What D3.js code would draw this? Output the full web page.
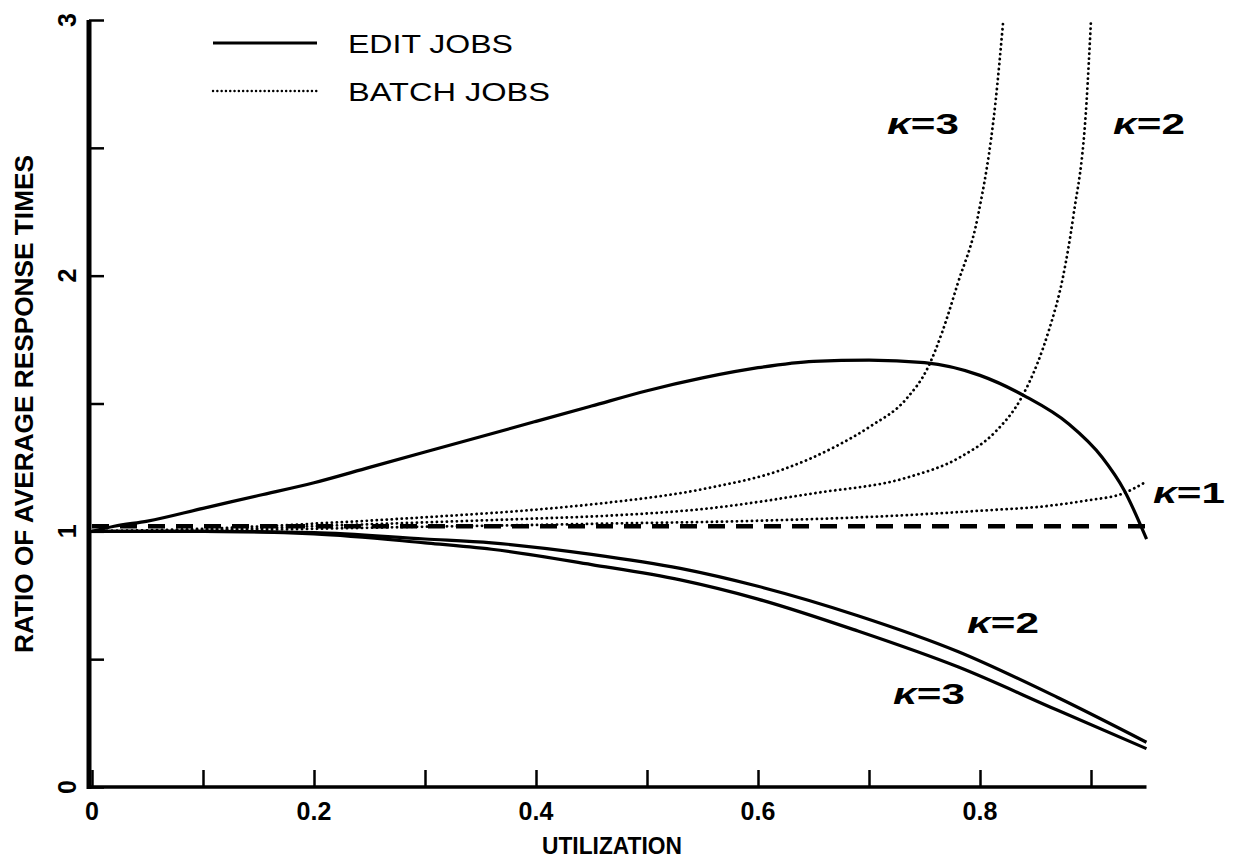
<!DOCTYPE html>
<html>
<head>
<meta charset="utf-8">
<script src="https://cdn.jsdelivr.net/npm/d3@7"></script>
<style>
  body { margin: 0; background: #fff; }
  svg { display: block; }
  text { font-family: 'Liberation Sans', 'DejaVu Sans', sans-serif; fill: #000; }
</style>
</head>
<body>
<div id="graf"></div>
<script>
// datos leidos del grafico
// curvas solidas (edit jobs)
editTopU   = [0, 0.02, 0.05, 0.1, 0.15, 0.2, 0.25, 0.3, 0.35, 0.4, 0.45, 0.5, 0.55, 0.6, 0.65, 0.7, 0.75, 0.8, 0.84, 0.88, 0.91, 0.93, 0.95]
editTopV   = [1.0, 1.02, 1.04, 1.09, 1.14, 1.19, 1.25, 1.31, 1.37, 1.43, 1.49, 1.55, 1.60, 1.64, 1.665, 1.67, 1.66, 1.61, 1.53, 1.42, 1.29, 1.16, 0.97]

editK2U    = [0, 0.1, 0.2, 0.3, 0.36, 0.45, 0.53, 0.6, 0.69, 0.78, 0.87, 0.95]
editK2V    = [1.0, 1.0, 0.995, 0.97, 0.955, 0.91, 0.855, 0.785, 0.67, 0.53, 0.35, 0.175]

editK3U    = [0, 0.1, 0.2, 0.3, 0.36, 0.45, 0.53, 0.6, 0.69, 0.78, 0.87, 0.95]
editK3V    = [1.0, 1.0, 0.99, 0.955, 0.93, 0.87, 0.81, 0.735, 0.61, 0.47, 0.30, 0.15]

// curvas punteadas (batch jobs)
batchK3U   = [0, 0.1, 0.2, 0.3, 0.4, 0.46, 0.556, 0.621, 0.669, 0.701, 0.734, 0.753, 0.766, 0.78, 0.798, 0.814, 0.821]
batchK3V   = [1.0, 1.01, 1.03, 1.055, 1.085, 1.11, 1.17, 1.24, 1.33, 1.41, 1.52, 1.64, 1.78, 1.97, 2.23, 2.68, 3.0]

batchK2U   = [0, 0.1, 0.2, 0.3, 0.4, 0.46, 0.556, 0.652, 0.734, 0.782, 0.814, 0.837, 0.852, 0.862, 0.875, 0.884, 0.896, 0.9]
batchK2V   = [1.0, 1.005, 1.02, 1.035, 1.05, 1.06, 1.09, 1.15, 1.21, 1.29, 1.39, 1.52, 1.66, 1.785, 2.0, 2.23, 2.68, 3.0]

batchK1U   = [0, 0.1, 0.2, 0.3, 0.4, 0.46, 0.588, 0.718, 0.798, 0.862, 0.895, 0.93, 0.948]
batchK1V   = [1.0, 1.003, 1.01, 1.018, 1.025, 1.03, 1.04, 1.06, 1.08, 1.10, 1.12, 1.15, 1.19]

// linea de referencia (guiones)
refU       = [0, 0.95]
refV       = [1.02, 1.02]

// ticks
xTicks      = [0, 0.1, 0.2, 0.3, 0.4, 0.5, 0.6, 0.7, 0.8, 0.9]
xTickLabels = ['0', '0.2', '0.4', '0.6', '0.8']
yTicks      = [0, 0.5, 1, 1.5, 2, 2.5, 3]
yTickLabels = ['0', '1', '2', '3']

// configuracion del svg
ancho = 1237
alto  = 864

svg = d3.select('#graf').append('svg')
        .attr('width', ancho)
        .attr('height', alto)

// escalas
x = d3.scaleLinear().domain([0, 0.95]).range([92, 1146.5])
y = d3.scaleLinear().domain([0, 3]).range([787, 20])

// ejes con ticks hacia adentro
xAxis = d3.axisBottom(x).tickValues(xTicks).tickSize(-17).tickFormat('')
yAxis = d3.axisLeft(y).tickValues(yTicks).tickSize(-15).tickFormat('')

gx = svg.append('g').attr('transform', `translate(0, ${ y(0) })`).call(xAxis)
gy = svg.append('g').attr('transform', `translate(${ x(0) - 3 }, 0)`).call(yAxis)

gx.select('.domain').attr('d', `M${ x(0) - 5 },0H${ x(0.95) }`).attr('stroke-width', 3.5)
gy.select('.domain').attr('d', `M0,${ y(3) }V${ y(0) + 2 }`).attr('stroke-width', 5)
svg.selectAll('.tick line').attr('stroke', '#000').attr('stroke-width', 2.5)

// etiquetas de ticks
svg.selectAll('text.xlab')
  .data(xTickLabels)
  .enter().append('text')
    .attr('class', 'xlab')
    .attr('x', d => x(+d))
    .attr('y', 820)
    .attr('text-anchor', 'middle')
    .style('font-size', '25px')
    .style('font-weight', 'bold')
    .text(d => d)

svg.selectAll('text.ylab')
  .data(yTickLabels)
  .enter().append('text')
    .attr('class', 'ylab')
    .attr('transform', d => `translate(76, ${ y(+d) }) rotate(-90)`)
    .attr('text-anchor', 'middle')
    .style('font-size', '25px')
    .style('font-weight', 'bold')
    .text(d => d)

// titulos de ejes
svg.append('text')
  .attr('x', 612)
  .attr('y', 854)
  .attr('text-anchor', 'middle')
  .attr('textLength', 140)
  .attr('lengthAdjust', 'spacingAndGlyphs')
  .style('font-size', '23px')
  .style('font-weight', 'bold')
  .text('UTILIZATION')

svg.append('text')
  .attr('transform', 'translate(33, 404) rotate(-90)')
  .attr('text-anchor', 'middle')
  .attr('textLength', 498)
  .attr('lengthAdjust', 'spacingAndGlyphs')
  .style('font-size', '25px')
  .style('font-weight', 'bold')
  .text('RATIO OF AVERAGE RESPONSE TIMES')

// generador de lineas
linea = d3.line()
          .x(d => x(d[0]))
          .y(d => y(d[1]))
          .curve(d3.curveMonotoneX)

function serie(us, vs) {
  return us.map((u, i) => [u, vs[i]])
}

estiloSolido = { width: 3.2, dash: null, cap: 'butt' }
estiloPunto  = { width: 2.8, dash: '0.1,4.9', cap: 'round' }

series = [
  { data: serie(editTopU, editTopV), s: estiloSolido },
  { data: serie(editK2U, editK2V), s: estiloSolido },
  { data: serie(editK3U, editK3V), s: estiloSolido },
  { data: serie(batchK3U, batchK3V), s: estiloPunto },
  { data: serie(batchK2U, batchK2V), s: estiloPunto },
  { data: serie(batchK1U, batchK1V), s: estiloPunto },
  { data: serie(refU, refV), s: { width: 4.5, dash: '17,11', cap: 'butt' } }
]

series.forEach(d => {
  svg.append('path')
    .attr('d', linea(d.data))
    .attr('fill', 'none')
    .attr('stroke', '#000')
    .attr('stroke-width', d.s.width)
    .attr('stroke-linecap', d.s.cap)
    .attr('stroke-dasharray', d.s.dash)
})

// leyenda
leyenda = [
  { nombre: 'EDIT JOBS', y: 43, s: estiloSolido, largo: 165 },
  { nombre: 'BATCH JOBS', y: 91, s: { width: 2.4, dash: '0.1,4.2', cap: 'round' }, largo: 202 }
]

leyenda.forEach(d => {
  svg.append('line')
    .attr('x1', 213).attr('x2', 317)
    .attr('y1', d.y).attr('y2', d.y)
    .attr('stroke', '#000')
    .attr('stroke-width', d.s.width)
    .attr('stroke-linecap', d.s.cap)
    .attr('stroke-dasharray', d.s.dash)

  svg.append('text')
    .attr('x', 348)
    .attr('y', d.y + 10)
    .attr('textLength', d.largo)
    .attr('lengthAdjust', 'spacingAndGlyphs')
    .style('font-size', '26px')
    .text(d.nombre)
})

// etiquetas kappa
kappas = [
  { k: '3', x: 887, y: 134 },
  { k: '2', x: 1113, y: 134 },
  { k: '1', x: 1153, y: 503 },
  { k: '2', x: 967, y: 633 },
  { k: '3', x: 893, y: 704 }
]

kappas.forEach(d => {
  t = svg.append('text')
        .attr('x', d.x)
        .attr('y', d.y)
        .attr('textLength', 72)
        .attr('lengthAdjust', 'spacingAndGlyphs')
        .style('font-size', '30px')
        .style('font-weight', 'bold')
  t.append('tspan').style('font-style', 'italic').text('κ')
  t.append('tspan').text('=' + d.k)
})
</script>
</body>
</html>
